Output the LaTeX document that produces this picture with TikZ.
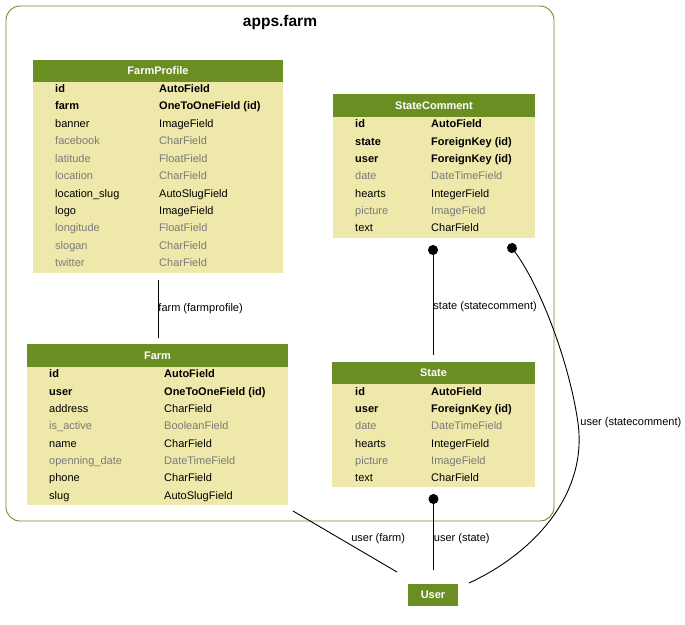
\documentclass[tikz,border=0pt]{standalone}
\usepackage{fontspec}
\setmainfont{Liberation Sans}
\usetikzlibrary{arrows.meta}

\begin{document}
\begin{tikzpicture}[x=1pt, y=-1pt, >={Circle[length=10pt]}]

\definecolor{olivehead}{RGB}{107,142,35}
\definecolor{goldbody}{RGB}{238,232,170}
\definecolor{blankgray}{RGB}{123,123,123}

% Page size
\useasboundingbox (0,0) rectangle (685,624);

\tikzset{
    cluster/.style={
        draw=olivehead, line width=0.9pt, rounded corners=14pt,
        rectangle, inner sep=0, outer sep=0
    },
    header/.style={
        rectangle, fill=olivehead, text=white,
        font=\fontsize{11}{13}\selectfont\bfseries,
        minimum height=22pt, inner sep=0, outer sep=0
    },
    body/.style={
        rectangle, fill=goldbody, anchor=north, inner sep=0, outer sep=0
    },
    field/.style={
        anchor=west, inner sep=0, text height=11.5pt, text depth=2pt,
        font=\fontsize{11}{13}\selectfont
    },
    pk/.style={field, font=\fontsize{11}{13}\selectfont\bfseries},
    opt/.style={field, text=blankgray},
    rel/.style={draw=black, line width=0.9pt},
    rlabel/.style={inner sep=0, font=\fontsize{11}{13}\selectfont}
}

% Cluster
\node[cluster, minimum width=548pt, minimum height=515pt] (farmapp) at (280,263.5) {};
\node[inner sep=0, font=\fontsize{15.5}{18}\selectfont\bfseries] (title) at (280,22) {apps.farm};

% --- FarmProfile ---
\node[header, minimum width=250pt] (FP) at (158,71) {FarmProfile};
\node[body, minimum width=250pt, minimum height=191pt] (FPbody) at (FP.south) {};
\node[pk] (fp1a) at (55,88) {id};                 \node[pk] (fp1b) at (159,88) {AutoField};
\node[pk] (fp2a) at (55,105) {farm};              \node[pk] (fp2b) at (159,105) {OneToOneField (id)};
\node[field] (fp3a) at (55,123) {banner};         \node[field] (fp3b) at (159,123) {ImageField};
\node[opt] (fp4a) at (55,140) {facebook};         \node[opt] (fp4b) at (159,140) {CharField};
\node[opt] (fp5a) at (55,158) {latitude};         \node[opt] (fp5b) at (159,158) {FloatField};
\node[opt] (fp6a) at (55,175) {location};         \node[opt] (fp6b) at (159,175) {CharField};
\node[field] (fp7a) at (55,193) {location\_slug}; \node[field] (fp7b) at (159,193) {AutoSlugField};
\node[field] (fp8a) at (55,210) {logo};           \node[field] (fp8b) at (159,210) {ImageField};
\node[opt] (fp9a) at (55,227) {longitude};        \node[opt] (fp9b) at (159,227) {FloatField};
\node[opt] (fp10a) at (55,245) {slogan};          \node[opt] (fp10b) at (159,245) {CharField};
\node[opt] (fp11a) at (55,262) {twitter};         \node[opt] (fp11b) at (159,262) {CharField};

% --- StateComment ---
\node[header, minimum width=202pt, minimum height=23pt] (SC) at (434,105.5) {StateComment};
\node[body, minimum width=202pt, minimum height=121pt] (SCbody) at (SC.south) {};
\node[pk] (sc1a) at (355,123) {id};         \node[pk] (sc1b) at (431,123) {AutoField};
\node[pk] (sc2a) at (355,141) {state};      \node[pk] (sc2b) at (431,141) {ForeignKey (id)};
\node[pk] (sc3a) at (355,158) {user};       \node[pk] (sc3b) at (431,158) {ForeignKey (id)};
\node[opt] (sc4a) at (355,175) {date};      \node[opt] (sc4b) at (431,175) {DateTimeField};
\node[field] (sc5a) at (355,193) {hearts};  \node[field] (sc5b) at (431,193) {IntegerField};
\node[opt] (sc6a) at (355,210) {picture};   \node[opt] (sc6b) at (431,210) {ImageField};
\node[field] (sc7a) at (355,227) {text};    \node[field] (sc7b) at (431,227) {CharField};

% --- Farm ---
\node[header, minimum width=261pt, minimum height=23pt] (Farm) at (157.5,355.5) {Farm};
\node[body, minimum width=261pt, minimum height=138pt] (Farmbody) at (Farm.south) {};
\node[pk] (fm1a) at (49,373) {id};                  \node[pk] (fm1b) at (164,373) {AutoField};
\node[pk] (fm2a) at (49,391) {user};                \node[pk] (fm2b) at (164,391) {OneToOneField (id)};
\node[field] (fm3a) at (49,408) {address};          \node[field] (fm3b) at (164,408) {CharField};
\node[opt] (fm4a) at (49,425) {is\_active};         \node[opt] (fm4b) at (164,425) {BooleanField};
\node[field] (fm5a) at (49,443) {name};             \node[field] (fm5b) at (164,443) {CharField};
\node[opt] (fm6a) at (49,460) {openning\_date};     \node[opt] (fm6b) at (164,460) {DateTimeField};
\node[field] (fm7a) at (49,477) {phone};            \node[field] (fm7b) at (164,477) {CharField};
\node[field] (fm8a) at (49,495) {slug};             \node[field] (fm8b) at (164,495) {AutoSlugField};

% --- State ---
\node[header, minimum width=203pt] (State) at (433.5,373) {State};
\node[body, minimum width=203pt, minimum height=103pt] (Statebody) at (State.south) {};
\node[pk] (st1a) at (355,391) {id};         \node[pk] (st1b) at (431,391) {AutoField};
\node[pk] (st2a) at (355,408) {user};       \node[pk] (st2b) at (431,408) {ForeignKey (id)};
\node[opt] (st3a) at (355,425) {date};      \node[opt] (st3b) at (431,425) {DateTimeField};
\node[field] (st4a) at (355,443) {hearts};  \node[field] (st4b) at (431,443) {IntegerField};
\node[opt] (st5a) at (355,460) {picture};   \node[opt] (st5b) at (431,460) {ImageField};
\node[field] (st6a) at (355,477) {text};    \node[field] (st6b) at (431,477) {CharField};

% --- User ---
\node[header, minimum width=50pt] (User) at (433,595) {User};

% --- RELATIONS ---
\draw[rel, shorten <=7pt, shorten >=6pt] (FPbody.south) -- (FPbody.south |- Farm.north)
    node[rlabel, midway, anchor=west] (lblfp) {farm (farmprofile)};

\draw[rel, {Circle[length=10pt]}-, shorten <=7pt, shorten >=7pt] ([xshift=-1pt]SCbody.south) -- ([xshift=-1pt]SCbody.south |- State.north)
    node[rlabel, pos=0.556, anchor=west] (lblsc) {state (statecomment)};

\draw[rel, {Circle[length=10pt]}-] ([xshift=75pt,yshift=-6pt]SCbody.south)
    .. controls (539,284) and (569,360) .. (578,423)
    node[rlabel, anchor=west, xshift=2pt] (lblusc) {user (statecomment)}
    .. controls (588,497) and (530,555) .. ([xshift=11pt,yshift=1pt]User.north east);

\draw[rel, {Circle[length=10pt]}-, shorten <=7pt, shorten >=14pt] (Statebody.south) -- (Statebody.south |- User.north)
    node[rlabel, pos=0.536, anchor=west] (lblst) {user (state)};

\draw[rel] ([xshift=5pt,yshift=-6pt]Farmbody.south east) -- ([xshift=-11pt,yshift=12pt]User.north west)
    node[rlabel, pos=0.46, anchor=west, xshift=10pt] (lblfm) {user (farm)};

\end{tikzpicture}
\end{document}
